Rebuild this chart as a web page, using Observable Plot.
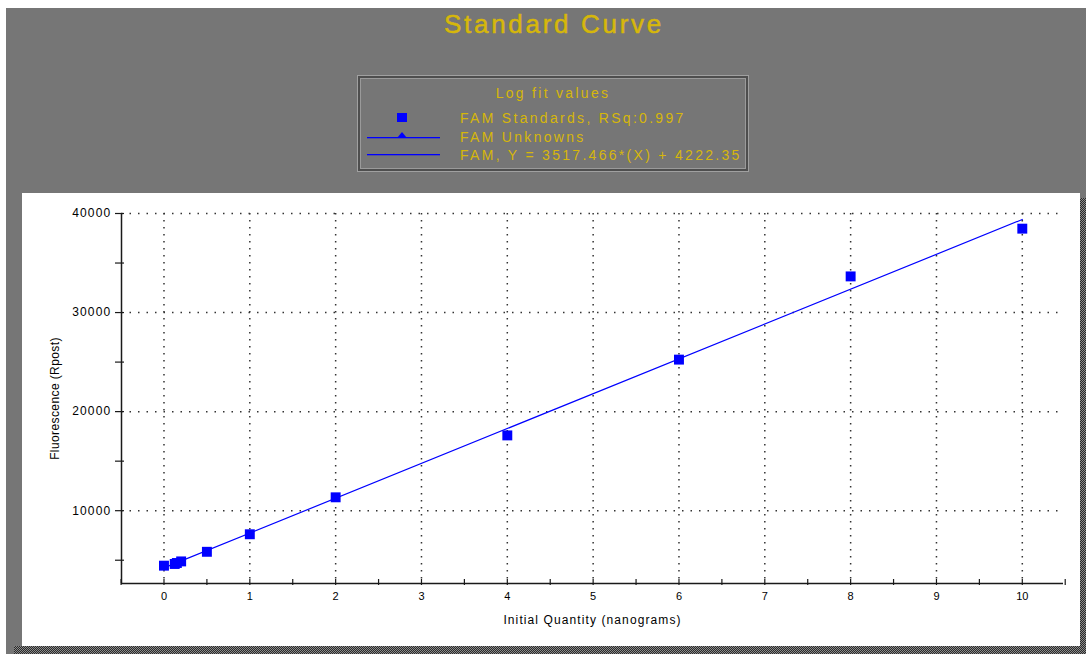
<!DOCTYPE html>
<html>
<head>
<meta charset="utf-8">
<script src="https://cdn.jsdelivr.net/npm/d3@7"></script>
<script src="https://cdn.jsdelivr.net/npm/@observablehq/plot@0.6"></script>
<style>
  html, body { margin: 0; padding: 0; background: #ffffff; width: 1086px; height: 654px; overflow: hidden; }
  #outer { position: absolute; left: 6px; top: 8px; width: 1080px; height: 646px; background: #767676; }
  #title { position: absolute; left: 0; width: 1108px; top: 9px; text-align: center;
           font-family: "Liberation Sans", Arial, sans-serif; font-size: 26px; letter-spacing: 2.7px; color: #d6b70a;
           -webkit-text-stroke: 0.5px #d6b70a; }
  #legend { position: absolute; left: 358px; top: 76px; width: 386px; height: 91px; background: #767676;
            border: 2px solid #4e4e4e; box-shadow: 0 0 0 1px #a0a0a0, inset 0 0 0 1px #9a9a9a;
            font-family: "Liberation Sans", Arial, sans-serif; color: #d6b70a; font-size: 14px; letter-spacing: 2.3px; }
  #legend .ttl { position: absolute; left: 0; width: 386px; top: 7px; text-align: center; }
  #legend .row { position: absolute; left: 0; height: 18px; width: 386px; }
  #legend .row svg { position: absolute; left: 5px; top: 0; }
  #legend .row span { position: absolute; left: 100px; top: 0; line-height: 18px; white-space: nowrap; }
  #panel { position: absolute; left: 22px; top: 193px; width: 1058px; height: 453px; background: #ffffff; }
  #shadowR { position: absolute; left: 1080px; top: 198px; width: 6px; height: 456px;
             background: repeating-conic-gradient(#2a2a2a 0 25%, #8a8a8a 0 50%) 0 0 / 2px 2px; }
  #shadowB { position: absolute; left: 14px; top: 646px; width: 1072px; height: 8px;
             background: repeating-conic-gradient(#2a2a2a 0 25%, #8a8a8a 0 50%) 0 0 / 2px 2px; }
  #chart { position: absolute; left: 22px; top: 193px; }
  #chart g[aria-label="y-axis tick label"] text { letter-spacing: 1.2px; }
  #chart g[aria-label="x-axis label"] text { font-size: 12px; letter-spacing: 1.1px; }
  #chart g[aria-label="y-axis label"] text { letter-spacing: 0.4px; }
</style>
</head>
<body>
<div id="outer"></div>
<div id="title"></div>
<div id="legend"></div>
<div id="shadowR"></div>
<div id="shadowB"></div>
<div id="panel"></div>
<div id="chart"></div>
<script>
// ---- data ----
const chartTitle = "Standard Curve";
const legendTitle = "Log fit values";
const seriesNames = ["FAM Standards, RSq:0.997", "FAM Unknowns", "FAM, Y = 3517.466*(X) + 4222.35"];
const quantities   = [0, 0.125, 0.15, 0.2, 0.5, 1, 2, 4, 6, 8, 10];
const fluorescence = [4450, 4620, 4720, 4880, 5850, 7620, 11350, 17600, 25250, 33650, 38470];
const fitSlope = 3517.466;
const fitIntercept = 4222.35;
const fitRangeX = [0, 10];
const xTickLabels = [0, 1, 2, 3, 4, 5, 6, 7, 8, 9, 10];
const xMinorTicks = [-0.5, 0.5, 1.5, 2.5, 3.5, 4.5, 5.5, 6.5, 7.5, 8.5, 9.5, 10.5];
const yTickLabels = [10000, 20000, 30000, 40000];
const yMinorTicks = [5000, 15000, 25000, 35000];
const xLabel = "Initial Quantity (nanograms)";
const yLabel = "Fluorescence (Rpost)";
const xDomain = [-0.495, 10.48];
const yDomain = [2650, 40000];

// ---- header / legend ----
document.getElementById("title").textContent = chartTitle;
const legend = document.getElementById("legend");
const lt = document.createElement("div"); lt.className = "ttl"; lt.textContent = legendTitle; legend.appendChild(lt);
const symbols = [
  '<svg width="80" height="18"><rect x="32" y="4" width="10" height="9" fill="#0000ff"/></svg>',
  '<svg width="80" height="18"><rect x="2" y="9" width="73" height="1.3" fill="#0000ff"/><path d="M37,4 L42,10 L32,10 Z" fill="#0000ff"/></svg>',
  '<svg width="80" height="18"><rect x="2" y="8" width="73" height="1.3" fill="#0000ff"/></svg>'
];
const rowTops = [31, 50, 68];
seriesNames.forEach((name, i) => {
  const r = document.createElement("div"); r.className = "row"; r.style.top = rowTops[i] + "px";
  r.innerHTML = symbols[i];
  const s = document.createElement("span"); s.textContent = name; r.appendChild(s);
  legend.appendChild(r);
});

// ---- chart ----
const points = quantities.map((q, i) => ({q, f: fluorescence[i]}));
const fitLine = fitRangeX.map(q => ({q, f: fitSlope * q + fitIntercept}));
const dotted = {stroke: "#333333", strokeOpacity: 1, strokeWidth: 1.5, strokeDasharray: "1.5,7"};

const plot = Plot.plot({
  width: 1058, height: 453,
  marginLeft: 99, marginRight: 17, marginTop: 20, marginBottom: 63,
  x: {domain: xDomain},
  y: {domain: yDomain},
  style: {fontFamily: "'Liberation Sans', Arial, sans-serif", fontSize: "12px", background: "transparent", color: "#000", overflow: "visible"},
  marks: [
    Plot.gridY(yTickLabels, dotted),
    Plot.gridX(xTickLabels, {...dotted, strokeDasharray: "1.5,5.5"}),
    Plot.ruleX([xDomain[0]], {stroke: "#1a1a1a", strokeWidth: 1.5}),
    Plot.ruleY([yDomain[0]], {stroke: "#1a1a1a", strokeWidth: 1.5}),
    Plot.axisY([...yTickLabels, ...yMinorTicks], {tickSize: 6, tickFormat: () => "", label: null, stroke: "#1a1a1a", strokeWidth: 1.2}),
    Plot.axisY([...yTickLabels, ...yMinorTicks], {tickSize: -3, tickFormat: () => "", label: null, stroke: "#1a1a1a", strokeWidth: 1.2}),
    Plot.axisX([...xTickLabels, ...xMinorTicks], {tickSize: 2, tickFormat: () => "", label: null, stroke: "#1a1a1a", strokeWidth: 1.2}),
    Plot.axisX([...xTickLabels, ...xMinorTicks], {tickSize: -4, tickFormat: () => "", label: null, stroke: "#1a1a1a", strokeWidth: 1.2}),
    Plot.axisY(yTickLabels, {tickSize: 0, tickPadding: 10, tickFormat: d => String(d), fontSize: 12,
      label: yLabel, labelAnchor: "center", labelArrow: "none", labelOffset: 71}),
    Plot.axisX(xTickLabels, {tickSize: 0, tickPadding: 9, tickFormat: d => String(d), fontSize: 11,
      label: xLabel, labelAnchor: "center", labelArrow: "none", labelOffset: 40}),
    Plot.line(fitLine, {x: "q", y: "f", stroke: "#0000ff", strokeWidth: 1.2}),
    Plot.dot(points, {x: "q", y: "f", symbol: "square", r: 5.6, fill: "#0000ff", stroke: "none"})
  ]
});
document.getElementById("chart").appendChild(plot);
</script>
</body>
</html>
